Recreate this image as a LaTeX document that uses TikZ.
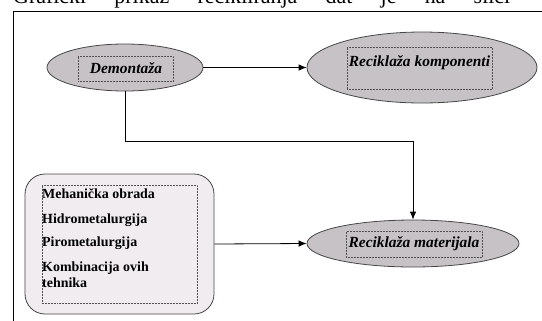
\documentclass[tikz,border=0pt]{standalone}
\usepackage{fontspec}
\setmainfont{Liberation Serif}
\usetikzlibrary{arrows.meta,shapes.geometric}
\definecolor{ellfill}{RGB}{198,194,198}
\definecolor{boxfill}{RGB}{240,236,240}
\definecolor{edgecol}{RGB}{70,70,70}
\definecolor{dotcol}{RGB}{80,80,80}
\begin{document}
\begin{tikzpicture}[x=1bp,y=-1bp,
  ell/.style={ellipse, draw=edgecol, line width=0.8bp, fill=ellfill, inner sep=0},
  dotbox/.style={draw=dotcol, line width=0.5bp, dash pattern=on 0.5bp off 1bp, inner sep=0},
  lbl/.style={font=\fontsize{15.5}{17}\selectfont\bfseries\itshape, inner sep=0},
  item/.style={font=\fontsize{14}{15}\selectfont\bfseries, anchor=base west, inner sep=0},
  conn/.style={line width=0.8bp, draw=black},
  arr/.style={conn, -{Latex[length=8bp,width=6.5bp]}}]
\useasboundingbox (0,0) rectangle (542,320);
% partially visible heading line
\node[anchor=base west, inner sep=0, font=\fontsize{22}{24}\selectfont] (head) at (13,3.5)
  {\makebox[497bp][s]{Grafički prikaz recikliranja dat je na slici}};
% frame
\draw[line width=0.8bp] (13,340) -- (13,11) -- (560,11);
% Demontaza
\node[ell, minimum width=156bp, minimum height=47bp] (dem) at (125,67.5) {};
\node[dotbox, minimum width=95bp, minimum height=25bp] (demf) at (125.5,68.5) {};
\node[lbl] (demt) at (126,68) {Demontaža};
% Reciklaza komponenti
\node[ell, minimum width=230bp, minimum height=71bp] (komp) at (422,67.5) {};
\node[dotbox, minimum width=145bp, minimum height=42bp] (kompf) at (419.5,68) {};
\node[lbl] (kompt) at (419.5,63) {Reciklaža komponenti};
% Reciklaza materijala
\node[ell, minimum width=212bp, minimum height=47bp] (mat) at (413,243.5) {};
\node[dotbox, minimum width=136bp, minimum height=26bp] (matf) at (414,244) {};
\node[lbl] (matt) at (414,243.5) {Reciklaža materijala};
% techniques box
\node[draw=edgecol, line width=0.8bp, fill=boxfill, rounded corners=20bp,
      minimum width=189bp, minimum height=140bp] (tech) at (119.5,244) {};
\node[dotbox, minimum width=155bp, minimum height=118bp] (techf) at (119.5,244) {};
\node[item] (t1) at (42,198) {Mehanička obrada};
\node[item] (t2) at (42,223) {Hidrometalurgija};
\node[item] (t3) at (42,246) {Pirometalurgija};
\node[item] (t4) at (42,271) {Kombinacija ovih};
\node[item] (t5) at (42,287) {tehnika};
% connectors
\coordinate (bend) at (413,141);
\draw[arr] (dem.east) -- (komp.west);
\draw[arr] (dem.south) |- (bend) -- (mat.north);
\draw[arr] (tech.east) -- (mat.west);
\end{tikzpicture}
\end{document}
